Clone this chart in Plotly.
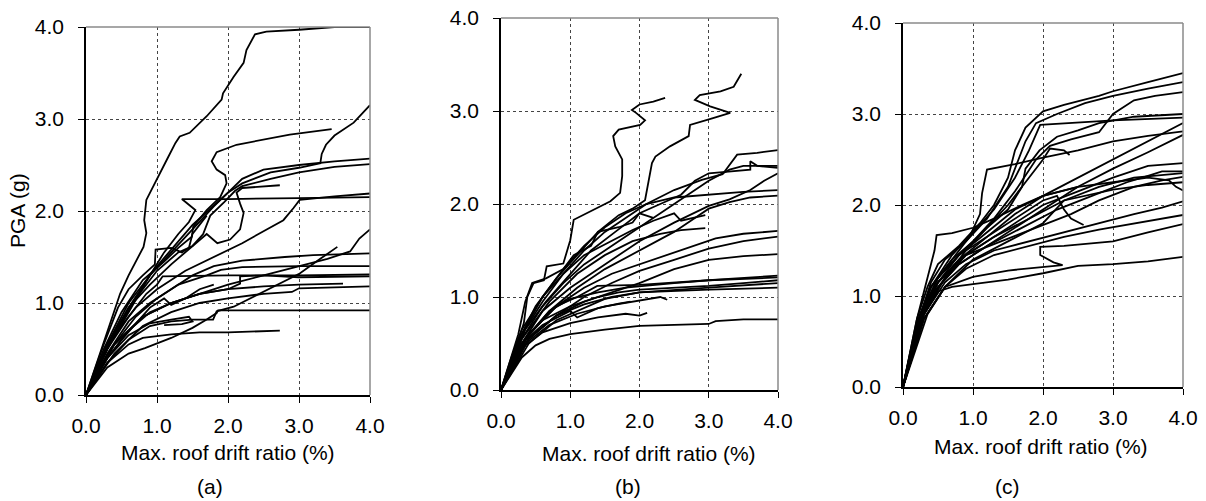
import plotly.graph_objects as go

# ---------------- Panel (a) curves: (drift %, PGA g) ----------------
A01 = [(0,0),(0.2,0.45),(0.35,0.8),(0.48,1.1),(0.6,1.3),(0.69,1.43),(0.81,1.61),(0.85,1.76),(0.82,1.9),(0.85,2.12),(0.99,2.34),(1.14,2.56),(1.26,2.74),(1.32,2.81),(1.46,2.85),(1.70,3.03),(1.91,3.21),(1.93,3.28),(2.08,3.46),(2.22,3.61),(2.26,3.75),(2.38,3.92),(2.54,3.95),(3.0,3.97),(3.5,4.0),(4.0,4.0)]
A02 = [(0,0),(0.3,0.55),(0.6,1.0),(1.0,1.4),(1.5,1.85),(2.0,2.2),(2.2,2.3),(2.6,2.42),(3.0,2.47),(3.3,2.52),(3.32,2.62),(3.38,2.72),(3.5,2.82),(3.77,2.96),(4.0,3.15)]
A03 = [(0,0),(0.25,0.5),(0.5,0.9),(0.8,1.25),(1.1,1.45),(1.3,1.6),(1.49,1.72),(1.51,1.83),(1.70,2.01),(1.89,2.15),(1.98,2.30),(1.96,2.39),(1.84,2.45),(1.77,2.54),(1.84,2.64),(2.12,2.72),(2.87,2.83),(3.46,2.89)]
A04 = [(0,0),(0.3,0.5),(0.6,0.95),(0.9,1.3),(1.2,1.55),(1.5,1.8),(1.8,2.05),(2.0,2.2),(2.2,2.35),(2.5,2.45),(3.0,2.5),(3.5,2.54),(4.0,2.57)]
A05 = [(0,0),(0.35,0.6),(0.7,1.05),(1.0,1.35),(1.3,1.55),(1.5,1.62),(1.65,1.75),(1.75,1.95),(1.95,2.1),(2.1,2.22),(2.2,2.27),(2.6,2.35),(3.0,2.42),(3.5,2.48),(4.0,2.51)]
A06 = [(0,0),(0.3,0.55),(0.6,0.95),(0.9,1.2),(1.2,1.42),(1.5,1.62),(1.7,1.75),(1.85,1.65),(2.03,1.69),(2.17,1.80),(2.22,1.98),(2.17,2.08),(2.12,2.2),(2.2,2.25),(2.73,2.28)]
A07 = [(0,0),(0.35,0.6),(0.7,0.95),(1.0,1.15),(1.4,1.35),(1.8,1.5),(2.2,1.65),(2.5,1.78),(2.78,1.9),(2.92,2.03),(3.01,2.12),(3.5,2.16),(4.0,2.19)]
A08 = [(0,0),(0.3,0.5),(0.6,0.9),(0.9,1.3),(1.1,1.55),(1.3,1.75),(1.45,1.88),(1.54,2.01),(1.35,2.13),(2.0,2.13),(3.0,2.14),(4.0,2.15)]
A09 = [(0,0),(0.4,0.55),(0.8,0.85),(1.2,1.0),(1.6,1.1),(2.0,1.2),(2.5,1.3),(3.0,1.4),(3.4,1.48),(3.72,1.56),(3.85,1.7),(4.0,1.80)]
A10 = [(0,0),(0.3,0.35),(0.6,0.6),(0.9,0.75),(1.2,0.8),(1.5,0.82),(1.79,0.82),(1.84,0.91),(2.08,0.96),(2.54,1.14),(3.01,1.32),(3.3,1.48),(3.54,1.61)]
A11 = [(0,0),(0.3,0.45),(0.6,0.8),(0.9,1.0),(1.2,1.15),(1.5,1.3),(1.8,1.4),(2.2,1.46),(2.8,1.5),(3.2,1.52),(4.0,1.54)]
A12 = [(0,0),(0.35,0.5),(0.7,0.85),(1.0,1.05),(1.3,1.2),(1.7,1.3),(1.9,1.36),(2.2,1.39),(3.0,1.40),(4.0,1.40)]
A13 = [(0,0),(0.3,0.5),(0.6,0.85),(0.85,1.1),(1.0,1.2),(1.08,1.29),(2.0,1.3),(3.0,1.3),(4.0,1.31)]
A14 = [(0,0),(0.4,0.55),(0.8,0.85),(1.2,1.0),(1.6,1.1),(2.0,1.15),(2.17,1.21),(2.17,1.29),(2.5,1.3),(3.0,1.28),(4.0,1.29)]
A15 = [(0,0),(0.3,0.4),(0.6,0.7),(0.9,0.9),(1.2,1.0),(1.6,1.1),(2.0,1.15),(2.5,1.18),(3.0,1.2),(3.62,1.21)]
A16 = [(0,0),(0.4,0.45),(0.8,0.75),(1.2,0.9),(1.6,1.0),(2.0,1.05),(2.5,1.1),(2.9,1.12),(3.0,1.16),(3.5,1.17),(4.0,1.18)]
A17 = [(0,0),(0.3,0.3),(0.6,0.45),(0.83,0.51),(1.2,0.62),(1.5,0.73),(1.7,0.82),(1.84,0.89),(1.86,0.92),(4.0,0.92)]
A18 = [(0,0),(0.3,0.35),(0.6,0.55),(0.8,0.62),(1.2,0.66),(1.6,0.68),(2.0,0.68),(2.4,0.69),(2.73,0.70)]
A19 = [(0,0),(0.3,0.4),(0.6,0.65),(0.9,0.78),(1.2,0.82),(1.45,0.85),(1.5,0.8),(1.35,0.77),(1.1,0.76)]
A20 = [(0,0),(0.25,0.55),(0.45,0.95),(0.6,1.15),(0.8,1.3),(0.97,1.42),(0.98,1.58),(1.2,1.6),(1.35,1.55),(1.45,1.6),(1.5,1.75),(1.7,1.95)]
A21 = [(0,0),(0.25,0.35),(0.5,0.6),(0.7,0.78),(0.9,0.95),(1.1,1.05),(1.2,0.98),(1.4,1.05),(1.6,1.15),(1.8,1.2)]
PANEL_A = [A01,A02,A03,A04,A05,A06,A07,A08,A09,A10,A11,A12,A13,A14,A15,A16,A17,A18,A19,A20,A21]

# ---------------- Panel (b) curves ----------------
B01 = [(0,0),(0.15,0.35),(0.3,0.65),(0.33,0.72),(0.38,1.0),(0.47,1.15),(0.62,1.18),(0.66,1.33),(0.90,1.36),(1.0,1.61),(1.05,1.83),(1.43,1.97),(1.58,2.03),(1.72,2.12),(1.75,2.30),(1.75,2.48),(1.65,2.62),(1.62,2.73),(1.70,2.80),(2.01,2.85),(2.08,2.90),(1.95,2.98),(1.89,3.01),(2.0,3.07),(2.2,3.1),(2.37,3.14)]
B02 = [(0,0),(0.3,0.6),(0.5,0.9),(0.8,1.2),(1.1,1.45),(1.4,1.7),(1.7,1.88),(1.9,1.95),(2.08,2.04),(2.13,2.26),(2.18,2.44),(2.23,2.51),(2.44,2.62),(2.71,2.73),(2.73,2.85),(3.05,2.92),(3.24,2.96),(3.31,2.98),(3.02,3.05),(2.80,3.12),(2.87,3.17),(3.17,3.21),(3.36,3.26),(3.47,3.40)]
B03 = [(0,0),(0.3,0.65),(0.6,1.0),(0.9,1.25),(1.2,1.5),(1.5,1.7),(1.8,1.85),(2.1,2.0),(2.5,2.15),(2.9,2.26),(3.2,2.32),(3.41,2.53),(3.7,2.55),(4.0,2.58)]
B04 = [(0,0),(0.3,0.55),(0.6,0.9),(0.9,1.15),(1.2,1.35),(1.6,1.55),(2.0,1.75),(2.4,1.95),(2.8,2.15),(3.0,2.25),(3.3,2.37),(3.5,2.41),(4.0,2.41)]
B05 = [(0,0),(0.35,0.65),(0.65,0.95),(1.0,1.25),(1.3,1.5),(1.65,1.7),(2.0,1.9),(2.3,2.0),(2.6,2.1),(2.8,2.25),(3.0,2.33),(3.6,2.37),(3.6,2.46),(3.7,2.41),(4.0,2.39)]
B06 = [(0,0),(0.3,0.5),(0.6,0.85),(1.0,1.1),(1.5,1.35),(2.0,1.6),(2.5,1.8),(3.0,1.98),(3.3,2.05),(3.6,2.15),(3.8,2.25),(4.0,2.33)]
B07 = [(0,0),(0.3,0.6),(0.6,1.0),(0.9,1.3),(1.2,1.55),(1.5,1.75),(1.8,1.9),(2.1,2.0),(2.5,2.07),(3.0,2.1),(3.5,2.13),(4.0,2.15)]
B08 = [(0,0),(0.35,0.55),(0.7,0.85),(1.1,1.1),(1.5,1.3),(2.0,1.5),(2.5,1.7),(2.8,1.85),(3.0,1.95),(3.3,2.02),(3.6,2.07),(4.0,2.09)]
B09 = [(0,0),(0.3,0.6),(0.6,0.95),(0.9,1.25),(1.2,1.45),(1.6,1.6),(1.9,1.72),(2.2,1.82),(2.5,1.9),(2.6,1.82),(2.8,1.85),(2.95,1.88)]
B10 = [(0,0),(0.3,0.55),(0.7,0.95),(1.1,1.25),(1.5,1.45),(1.9,1.6),(2.3,1.68),(2.6,1.72),(2.95,1.74)]
B11 = [(0,0),(0.4,0.6),(0.8,0.9),(1.2,1.1),(1.6,1.25),(2.0,1.35),(2.4,1.45),(2.8,1.55),(3.1,1.63),(3.5,1.68),(4.0,1.71)]
B12 = [(0,0),(0.4,0.55),(0.8,0.8),(1.2,1.0),(1.6,1.15),(2.0,1.28),(2.5,1.4),(3.0,1.52),(3.5,1.6),(4.0,1.65)]
B13 = [(0,0),(0.4,0.55),(0.8,0.8),(1.2,0.95),(1.6,1.05),(2.0,1.15),(2.5,1.3),(3.0,1.4),(3.5,1.44),(4.0,1.46)]
B14 = [(0,0),(0.4,0.6),(0.8,0.9),(1.1,1.0),(1.39,1.12),(2.0,1.13),(3.0,1.18),(4.0,1.23)]
B15 = [(0,0),(0.35,0.55),(0.7,0.85),(1.0,0.98),(1.4,1.05),(1.8,1.1),(2.5,1.15),(3.0,1.18),(4.0,1.21)]
B16 = [(0,0),(0.3,0.5),(0.6,0.75),(1.0,0.9),(1.4,1.0),(1.7,1.05),(2.0,1.08),(3.0,1.12),(3.5,1.15),(4.0,1.18)]
B17 = [(0,0),(0.4,0.55),(0.8,0.8),(1.2,0.92),(1.6,1.0),(2.0,1.05),(3.0,1.1),(4.0,1.15)]
B18 = [(0,0),(0.4,0.5),(0.8,0.75),(1.2,0.88),(1.5,0.98),(2.0,1.05),(3.0,1.08),(4.0,1.10)]
B19 = [(0,0),(0.3,0.35),(0.5,0.48),(0.7,0.55),(1.0,0.6),(1.5,0.65),(2.0,0.69),(2.5,0.7),(3.0,0.71),(3.1,0.74),(3.5,0.76),(4.0,0.76)]
B20 = [(0,0),(0.3,0.45),(0.6,0.62),(1.0,0.72),(1.4,0.78),(1.8,0.82),(2.0,0.8),(2.11,0.83)]
B21 = [(0,0),(0.35,0.5),(0.7,0.7),(1.1,0.82),(1.5,0.9),(1.9,0.95),(2.3,1.0),(2.4,0.97)]
B22 = [(0,0),(0.3,0.5),(0.6,0.7),(1.0,0.85),(1.1,0.78),(1.4,0.88),(1.7,0.93),(1.87,0.95)]
B23 = [(0,0),(0.25,0.6),(0.35,0.95),(0.45,1.15),(0.65,1.2),(0.9,1.3),(1.05,1.45),(1.3,1.55),(1.4,1.7),(1.7,1.75),(1.9,1.8),(2.0,1.9),(2.2,1.85)]
PANEL_B = [B01,B02,B03,B04,B05,B06,B07,B08,B09,B10,B11,B12,B13,B14,B15,B16,B17,B18,B19,B20,B21,B22,B23]

# ---------------- Panel (c) curves ----------------
C01 = [(0,0),(0.2,0.75),(0.35,1.1),(0.5,1.35),(0.8,1.55),(1.1,1.8),(1.3,2.0),(1.5,2.3),(1.6,2.6),(1.75,2.85),(2.0,3.03),(2.3,3.1),(2.8,3.2),(3.0,3.25),(3.5,3.35),(4.0,3.45)]
C02 = [(0,0),(0.25,0.8),(0.4,1.15),(0.6,1.4),(0.9,1.6),(1.2,1.85),(1.5,2.2),(1.65,2.5),(1.75,2.7),(1.9,2.9),(2.2,3.0),(2.6,3.12),(3.0,3.2),(3.5,3.28),(4.0,3.35)]
C03 = [(0,0),(0.2,0.7),(0.4,1.1),(0.7,1.4),(1.0,1.6),(1.3,1.85),(1.6,2.15),(1.9,2.5),(2.1,2.65),(2.4,2.72),(2.8,2.8),(3.0,3.0),(3.3,3.15),(3.6,3.2),(4.0,3.24)]
C04 = [(0,0),(0.25,0.8),(0.5,1.2),(0.8,1.45),(1.2,1.75),(1.5,1.95),(1.7,2.2),(1.75,2.4),(1.95,2.6),(2.2,2.75),(2.5,2.82),(2.8,2.9),(3.3,2.97),(4.0,3.0)]
C05 = [(0,0),(0.2,0.7),(0.4,1.1),(0.7,1.45),(1.0,1.7),(1.3,1.95),(1.6,2.3),(1.8,2.6),(1.96,2.88),(3.0,2.93),(4.0,2.96)]
C06 = [(0,0),(0.3,0.85),(0.5,1.15),(0.8,1.4),(1.2,1.65),(1.6,1.9),(2.0,2.1),(2.5,2.3),(3.0,2.5),(3.5,2.7),(4.0,2.90)]
C07 = [(0,0),(0.2,0.7),(0.4,1.1),(0.7,1.4),(0.95,1.65),(1.1,1.9),(1.13,2.13),(1.2,2.39),(1.6,2.45),(2.0,2.52),(2.5,2.6),(3.0,2.7),(3.5,2.76),(4.0,2.81)]
C08 = [(0,0),(0.25,0.75),(0.5,1.1),(0.8,1.35),(1.2,1.55),(1.6,1.75),(2.0,1.95),(2.5,2.2),(3.0,2.4),(3.5,2.58),(4.0,2.77)]
C09 = [(0,0),(0.3,0.8),(0.6,1.2),(0.9,1.5),(1.2,1.75),(1.5,2.0),(1.7,2.2),(1.85,2.35),(2.0,2.5),(2.1,2.62),(2.3,2.6),(2.38,2.55)]
C10 = [(0,0),(0.25,0.75),(0.5,1.15),(0.8,1.4),(1.2,1.6),(1.6,1.8),(2.0,2.0),(2.5,2.15),(3.0,2.3),(3.5,2.43),(4.0,2.46)]
C11 = [(0,0),(0.2,0.65),(0.45,1.05),(0.8,1.35),(1.2,1.55),(1.7,1.75),(2.2,1.95),(2.7,2.1),(3.2,2.25),(3.5,2.32),(3.7,2.37),(4.0,2.37)]
C12 = [(0,0),(0.3,0.85),(0.6,1.2),(0.9,1.45),(1.3,1.65),(1.8,1.85),(2.3,2.05),(2.8,2.2),(3.3,2.3),(4.0,2.35)]
C13 = [(0,0),(0.25,0.8),(0.5,1.15),(0.9,1.45),(1.4,1.6),(1.9,1.75),(2.4,1.9),(2.8,2.05),(3.3,2.2),(3.7,2.27),(4.0,2.31)]
C14 = [(0,0),(0.3,0.75),(0.6,1.1),(1.0,1.4),(1.5,1.6),(2.0,1.8),(2.3,2.05),(2.6,2.1),(3.0,2.17),(3.5,2.22),(4.0,2.25)]
C15 = [(0,0),(0.25,0.8),(0.5,1.2),(0.8,1.45),(1.2,1.7),(1.6,1.95),(2.0,2.1),(2.5,2.2),(3.0,2.25),(3.5,2.3),(3.8,2.27),(3.9,2.2),(4.0,2.16)]
C16 = [(0,0),(0.3,0.8),(0.6,1.15),(0.9,1.35),(1.3,1.5),(1.8,1.6),(2.3,1.7),(2.8,1.8),(3.3,1.9),(3.7,1.97),(4.0,2.04)]
C17 = [(0,0),(0.3,0.75),(0.6,1.1),(0.9,1.3),(1.3,1.45),(1.8,1.55),(2.3,1.65),(2.8,1.73),(3.3,1.8),(4.0,1.89)]
C18 = [(0,0),(0.35,0.8),(0.6,1.1),(1.0,1.21),(1.5,1.28),(2.0,1.32),(2.28,1.34),(2.15,1.37),(1.96,1.45),(1.96,1.54),(2.3,1.55),(3.0,1.6),(3.5,1.7),(4.0,1.79)]
C19 = [(0,0),(0.25,0.75),(0.5,1.15),(0.8,1.45),(1.2,1.65),(1.6,1.85),(2.0,2.05),(2.2,2.1),(2.3,1.95),(2.4,1.85),(2.58,1.78)]
C20 = [(0,0),(0.3,0.8),(0.5,1.05),(0.7,1.1),(1.0,1.13),(1.5,1.18),(2.0,1.25),(2.5,1.33),(3.0,1.35),(3.5,1.38),(4.0,1.43)]
C21 = [(0,0),(0.2,0.75),(0.35,1.2),(0.45,1.5),(0.48,1.67),(0.7,1.69),(1.0,1.75),(1.3,1.85),(1.7,2.0),(2.0,2.1),(2.5,2.2)]
PANEL_C = [C01,C02,C03,C04,C05,C06,C07,C08,C09,C10,C11,C12,C13,C14,C15,C16,C17,C18,C19,C20,C21]

TICKS = [0, 1, 2, 3, 4]
TICK_TEXT = ["0.0", "1.0", "2.0", "3.0", "4.0"]

# ---------------- layout geometry (pixels) ----------------
W, H = 1206, 501
BOXES = [(86, 370, 27, 395), (501, 778, 18, 390), (903, 1183, 23, 387)]
FONT = "Liberation Sans, Arial, sans-serif"

fig = go.Figure()
for i, (panel, box) in enumerate(zip([PANEL_A, PANEL_B, PANEL_C], BOXES), start=1):
    xs = "x" if i == 1 else f"x{i}"
    ys = "y" if i == 1 else f"y{i}"
    for curve in panel:
        fig.add_trace(go.Scatter(
            x=[p[0] for p in curve], y=[p[1] for p in curve],
            mode="lines", line=dict(color="black", width=1.8),
            xaxis=xs, yaxis=ys, showlegend=False, hoverinfo="skip"))
    x0, x1, y0, y1 = box
    axcommon = dict(range=[0, 4], tickvals=TICKS, ticktext=TICK_TEXT, automargin=False,
                    showgrid=True, gridcolor="#444444", griddash="dot", gridwidth=1,
                    zeroline=False, showline=True, linecolor="black", linewidth=1.5,
                    ticks="outside", ticklen=6, tickcolor="black", tickwidth=1,
                    tickfont=dict(family=FONT, size=21, color="black"),
                    fixedrange=True)
    fig.update_layout(**{
        ("xaxis" if i == 1 else f"xaxis{i}"): dict(
            domain=[x0 / W, x1 / W], anchor=ys, ticklabelstandoff=5, **axcommon),
        ("yaxis" if i == 1 else f"yaxis{i}"): dict(
            domain=[1 - y1 / H, 1 - y0 / H], anchor=xs, ticklabelstandoff=10, **axcommon),
    })
    # grey plot-area border (top & right)
    fig.add_shape(type="line", xref="paper", yref="paper",
                  x0=x0 / W, x1=x1 / W, y0=1 - y0 / H, y1=1 - y0 / H,
                  line=dict(color="#8a8a8a", width=1.5))
    fig.add_shape(type="line", xref="paper", yref="paper",
                  x0=x1 / W, x1=x1 / W, y0=1 - y0 / H, y1=1 - y1 / H,
                  line=dict(color="#8a8a8a", width=1.5))

def ann(text, px, py, size=21, angle=0):
    fig.add_annotation(text=text, x=px / W, y=1 - py / H, xref="paper", yref="paper",
                       xanchor="center", yanchor="middle", showarrow=False, textangle=angle,
                       font=dict(family=FONT, size=size, color="black"))

ann("PGA (g)", 17, 211, angle=-90)
ann("Max. roof drift ratio (%)", 228, 452)
ann("Max. roof drift ratio (%)", 649, 453)
ann("Max. roof drift ratio (%)", 1041, 446)
ann("(a)", 210, 486)
ann("(b)", 628, 486)
ann("(c)", 1007, 486)

fig.update_layout(width=W, height=H, margin=dict(l=0, r=0, t=0, b=0),
                  plot_bgcolor="white", paper_bgcolor="white")
fig.write_html("out.html")
